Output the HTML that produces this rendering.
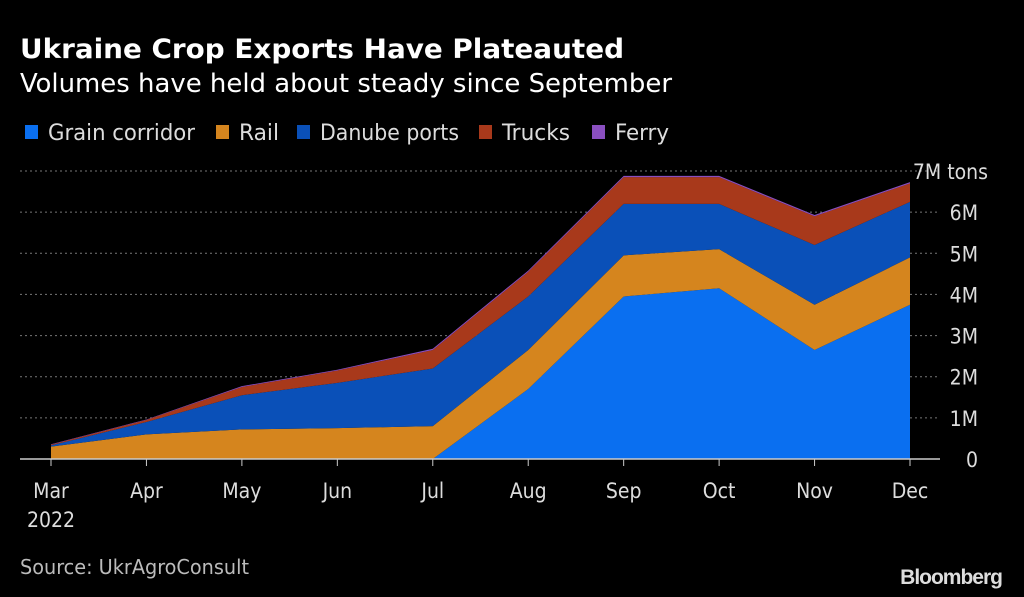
<!DOCTYPE html>
<html><head><meta charset="utf-8">
<style>
body{margin:0;background:#000;width:1024px;height:597px;overflow:hidden;font-family:"DejaVu Sans Condensed","DejaVu Sans","Liberation Sans",sans-serif;color:#fff}
svg{position:absolute;left:0;top:0}
</style></head>
<body>
<svg width="1024" height="597">
<text x="20" y="58" font-weight="bold" font-size="27" fill="#fff" textLength="604" lengthAdjust="spacingAndGlyphs">Ukraine Crop Exports Have Plateauted</text>
<text x="20" y="92" font-size="26" fill="#fff" textLength="652" lengthAdjust="spacingAndGlyphs">Volumes have held about steady since September</text>
<g id="legend"></g>
<g id="grid"></g>
<g id="areas"></g>
<g id="xaxis"></g>
<text x="20" y="574" font-size="20" fill="#bbb" textLength="229" lengthAdjust="spacingAndGlyphs">Source: UkrAgroConsult</text>
<text x="1002" y="584" text-anchor="end" font-family="Liberation Sans, sans-serif" font-weight="bold" font-size="21" fill="#ddd" letter-spacing="-1">Bloomberg</text>
</svg>
<script>
const months=["Mar","Apr","May","Jun","Jul","Aug","Sep","Oct","Nov","Dec"];
const grain=[0,0,0,0,0,1.7,3.95,4.15,2.65,3.75];
const rail=[0.3,0.6,0.72,0.75,0.8,0.95,1.0,0.95,1.1,1.15];
const danube=[0.03,0.3,0.83,1.1,1.4,1.3,1.25,1.1,1.45,1.35];
const trucks=[0.02,0.05,0.2,0.3,0.45,0.6,0.65,0.65,0.7,0.45];
const ferry=[0.01,0.01,0.02,0.02,0.03,0.03,0.03,0.03,0.03,0.03];
const yTicks=[0,1,2,3,4,5,6,7];
const series=[["Grain corridor",grain,"#0a6ff0"],["Rail",rail,"#d5851e"],["Danube ports",danube,"#0a50b8"],["Trucks",trucks,"#a8391b"],["Ferry",ferry,"#8a4fc0"]];
const legX=[25,216,297,479,592];
const legW=[147,40,139,68,54];
const NS="http://www.w3.org/2000/svg";
const X=i=>51+i*(910-51)/(months.length-1);
const Y=v=>459-v*(459-171)/7;
function mk(t,a,p){const e=document.createElementNS(NS,t);for(const k in a)e.setAttribute(k,a[k]);p.appendChild(e);return e;}
const grid=document.getElementById('grid');
yTicks.forEach(v=>{
  if(v>0){const l=mk('line',{x1:20,x2:940,y1:Y(v),y2:Y(v),stroke:'#777','stroke-dasharray':'2,3'},grid);
  
  }
  const t=mk('text',{x:v==7?988:978,y:Y(v)+8,'text-anchor':'end','font-size':21,fill:'#ddd'},grid);
  t.textContent=v==0?'0':v==7?'7M tons':v+'M';
  
  
});
const areas=document.getElementById('areas');
let base=months.map(()=>0);
series.forEach(([name,vals,col])=>{
  const top=base.map((b,i)=>b+vals[i]);
  let d='M'+top.map((v,i)=>X(i)+','+Y(v)).join('L');
  for(let i=months.length-1;i>=0;i--)d+='L'+X(i)+','+Y(base[i]);
  const p=mk('path',{d:d+'Z',fill:col},areas);
  
  
  base=top;
});
const xa=document.getElementById('xaxis');
mk('line',{x1:20,x2:940,y1:459,y2:459,stroke:'#ccc','stroke-width':1.5},xa);
months.forEach((m,i)=>{
  mk('line',{x1:X(i),x2:X(i),y1:459,y2:466,stroke:'#ccc'},xa);
  const t=mk('text',{x:X(i),y:498,'text-anchor':'middle','font-size':21,fill:'#ddd'},xa);
  t.textContent=m;
  
  
});
const yr=mk('text',{x:51,y:527,'text-anchor':'middle','font-size':21,fill:'#ddd'},xa);yr.textContent='2022';


const lg=document.getElementById('legend');
series.forEach(([name,,col],i)=>{
  mk('rect',{x:legX[i],y:125,width:13,height:14,fill:col},lg);
  const t=mk('text',{x:legX[i]+23,y:140,'font-size':22,fill:'#ddd',textLength:legW[i],lengthAdjust:'spacingAndGlyphs'},lg);t.textContent=name;
  
  
});
</script>
</body></html>
